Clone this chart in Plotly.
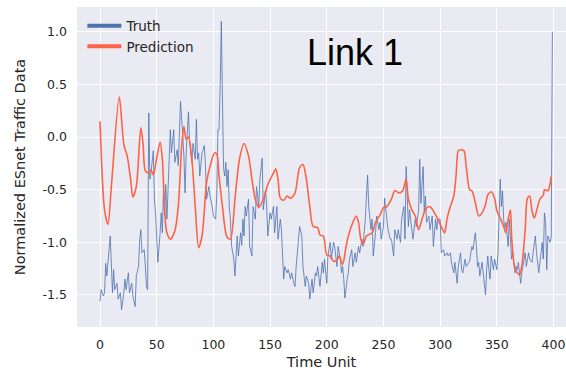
import plotly.graph_objects as go

# Observed link traffic (normalized), sampled time units
truth_t = [0, 1, 3, 4, 5, 6, 9, 10, 11, 12, 13, 15, 16, 18, 19, 21, 22, 23, 25, 26, 28, 29, 31, 32, 34, 35, 36, 37, 39, 40,
           41, 42, 43, 44, 45, 47, 48, 49, 50, 51, 53, 54, 55, 56, 57, 58, 59, 60, 62, 63, 65, 66, 68, 69, 70, 71, 73, 74, 75, 76,
           78, 79, 81, 82, 84, 85, 86, 87, 88, 90, 91, 92, 93, 94, 96, 97, 99, 100, 102, 103, 104, 105, 106, 107, 108, 109, 110, 111, 112, 113,
           114, 115, 116, 118, 119, 120, 121, 122, 124, 125, 126, 127, 128, 129, 131, 132, 134, 135, 137, 138, 140, 141, 143, 144, 146, 147, 148, 150, 151, 153,
           154, 156, 157, 159, 160, 162, 163, 165, 166, 168, 169, 171, 172, 173, 175, 176, 178, 179, 181, 182, 184, 185, 187, 188, 190, 191, 192, 194, 196, 197,
           198, 200, 201, 203, 204, 206, 207, 209, 210, 212, 213, 214, 215, 216, 218, 219, 220, 222, 223, 225, 226, 228, 229, 231, 232, 234, 235, 236, 237, 239,
           240, 241, 243, 244, 246, 247, 248, 250, 251, 253, 254, 256, 257, 259, 260, 262, 263, 265, 266, 268, 269, 270, 271, 272, 273, 275, 276, 278, 279, 281,
           282, 283, 285, 286, 287, 288, 290, 291, 293, 294, 296, 297, 298, 300, 301, 303, 304, 306, 307, 309, 310, 312, 313, 315, 316, 318, 319, 320, 322, 323,
           325, 326, 327, 328, 329, 331, 332, 333, 334, 335, 337, 338, 340, 341, 342, 343, 344, 345, 347, 348, 350, 351, 352, 353, 354, 355, 356, 357, 358, 360,
           361, 362, 363, 364, 366, 367, 368, 369, 371, 372, 374, 375, 376, 378, 379, 381, 382, 384, 385, 386, 387, 389, 390, 391, 392, 393, 394, 395, 396, 397,
           398, 399]
truth_v = [-1.56, -1.45, -1.51, -1.48, -1.20, -1.32, -0.94, -1.29, -1.48, -1.26, -1.45, -1.39, -1.54, -1.48, -1.64, -1.48, -1.35, -1.45, -1.29, -1.48,
           -1.39, -1.51, -1.61, -1.32, -1.23, -0.97, -0.88, -1.10, -1.07, -1.23,
           -1.42, -1.45, 0.23, -0.40, -0.34, -0.13, -0.59, -0.72, -0.97, -1.19, -0.91, -0.72, -0.91, -0.47, -0.75, -0.45, -0.78, -0.53, 0.07, -0.15,
           0.07, -0.24, -0.12, -0.27, 0.14, 0.34, 0.01, -0.18, -0.53, -0.15,
           0.24, -0.04, -0.24, -0.06, -0.21, 0.17, -0.21, -0.15, -0.37, -0.15, -0.12, -0.08, -0.27, -0.59, -0.47, -0.56, -0.66, -0.75, -0.78, -0.53,
           0.07, 0.07, 0.50, 1.10, 0.35, -0.30, -0.37, -0.24, -0.47, -0.31,
           -0.66, -0.78, -1.03, -1.16, -1.32, -1.10, -0.94, -1.13, -0.91, -1.03, -0.78, -0.94, -0.66, -0.75, -0.59, -1.04, -1.13, -0.66, -0.78, -0.47,
           -0.66, -0.40, -0.20, -0.69, -0.50, -0.66, -0.94, -0.72, -0.78, -0.66,
           -0.91, -0.66, -0.97, -0.78, -0.88, -1.35, -1.23, -1.29, -1.26, -1.35, -1.29, -1.39, -1.42, -1.23, -1.00, -0.85, -0.94, -1.23, -1.42, -1.32,
           -1.39, -1.54, -1.35, -1.48, -1.29, -1.32, -1.23, -1.42, -1.19, -1.29,
           -1.16, -1.39, -1.13, -1.00, -1.16, -1.00, -1.04, -1.23, -1.04, -1.16, -1.29, -1.23, -1.35, -1.53, -1.35, -1.29, -1.16, -1.07, -1.23, -1.10,
           -1.19, -1.04, -1.10, -0.97, -1.04, -0.78, -0.56, -0.36, -0.66, -0.88,
           -0.78, -1.13, -0.91, -0.75, -0.88, -0.81, -0.97, -0.85, -0.58, -0.78, -0.88, -0.97, -0.97, -1.13, -0.88, -0.97, -0.88, -1.00, -0.78, -0.66,
           -0.97, -0.28, -0.63, -0.85, -0.69, -0.88, -0.97, -0.78, -0.85, -0.69,
           -0.21, -0.63, -0.28, -0.72, -0.56, -0.81, -0.75, -0.88, -0.75, -1.04, -0.78, -0.88, -0.78, -0.78, -1.10, -1.07, -1.13, -1.10, -1.13, -1.10,
           -1.19, -1.29, -1.19, -1.39, -1.23, -1.10, -1.26, -1.29, -1.16, -1.23,
           -1.19, -1.18, -1.10, -1.04, -1.07, -0.91, -1.04, -1.23, -1.19, -1.32, -1.19, -1.29, -1.50, -1.26, -1.13, -1.26, -1.35, -1.13, -1.26, -1.16,
           -1.26, -1.10, -0.78, -0.40, -0.66, -0.51, -0.78, -0.88, -0.81, -1.04,
           -0.78, -0.94, -1.16, -1.10, -1.29, -1.23, -1.26, -1.19, -1.39, -1.29, -1.16, -1.10, -1.23, -1.10, -1.16, -1.19, -1.10, -0.94, -1.10, -1.23,
           -1.29, -1.10, -1.00, -1.16, -0.72, -0.81, -1.26, -0.94, -0.97, -1.00,
           -0.95, 1.00]

# Model prediction (smooth curve), sampled time units
pred_t = [0, 4, 7, 10, 17, 21, 24, 27, 29, 32, 36, 38, 40, 43, 45, 47, 50, 53, 55, 57,
          59, 62, 66, 69, 72, 74, 76, 78, 81, 84, 87, 90, 94, 97, 101, 103, 105, 108, 112, 115,
          119, 123, 127, 131, 134, 137, 140, 144, 148, 153, 155, 157, 159, 162, 165, 168, 172, 176, 179, 182,
          185, 188, 192, 194, 197, 200, 203, 206, 209, 211, 214, 217, 219, 223, 226, 228, 230, 232, 235, 240,
          243, 247, 250, 253, 257, 260, 264, 267, 270, 272, 275, 278, 281, 284, 287, 290, 292, 295, 298, 301,
          304, 306, 309, 312, 314, 316, 318, 321, 323, 326, 328, 331, 334, 337, 340, 342, 345, 348, 350, 353,
          356, 358, 360, 362, 363, 365, 367, 370, 372, 375, 377, 379, 381, 383, 386, 388, 391, 392, 395, 397,
          398]
pred_v = [0.15, -0.69, -0.83, -0.47, 0.38, -0.07, -0.18, -0.40, -0.57, -0.47, 0.09, -0.07, -0.32, -0.34, -0.31, -0.36, -0.20, -0.05, -0.21, -0.70,
          -0.91, -0.97, -0.89, -0.66, -0.09, 0.10, -0.02, 0.00, -0.21, -0.66, -1.05, -0.94, -0.43, -0.28, -0.15, -0.16, -0.37, -0.66, -0.95, -0.97,
          -0.59, -0.21, -0.06, -0.18, -0.40, -0.59, -0.67, -0.59, -0.45, -0.34, -0.30, -0.40, -0.58, -0.60, -0.56, -0.58, -0.53, -0.29, -0.26, -0.40,
          -0.66, -0.85, -0.86, -0.93, -0.94, -1.12, -1.13, -1.18, -1.17, -1.13, -1.21, -1.04, -0.94, -0.81, -0.75, -0.81, -0.97, -1.02, -0.94, -0.91,
          -0.81, -0.74, -0.67, -0.66, -0.59, -0.51, -0.53, -0.51, -0.40, -0.59, -0.69, -0.75, -0.88, -0.78, -0.69, -0.66, -0.67, -0.72, -0.78, -0.85,
          -0.91, -0.78, -0.66, -0.56, -0.37, -0.13, -0.12, -0.13, -0.28, -0.50, -0.51, -0.62, -0.75, -0.72, -0.64, -0.55, -0.52, -0.58, -0.70, -0.77,
          -0.85, -0.91, -0.78, -0.69, -0.94, -1.19, -1.27, -1.31, -1.23, -0.88, -0.58, -0.56, -0.70, -0.77, -0.66, -0.59, -0.55, -0.50, -0.51, -0.44,
          -0.37]

x_ticks = [0, 50, 100, 150, 200, 250, 300, 350, 400]
y_ticks = [-1.5, -1.0, -0.5, 0.0, 0.5, 1.0]

BLUE = "#4C72B0"
RED = "#FF6347"
TXT = "#262626"

fig = go.Figure()
fig.add_trace(go.Scatter(x=truth_t, y=truth_v, mode="lines", showlegend=False,
                         line=dict(color="rgba(76,114,176,0.8)", width=1)))
fig.add_trace(go.Scatter(x=pred_t, y=pred_v, mode="lines", showlegend=False,
                         line=dict(color=RED, width=1.6, shape="spline", smoothing=0.8)))
# legend entries with thick sample lines
fig.add_trace(go.Scatter(x=[None], y=[None], mode="lines", name="Truth",
                         line=dict(color=BLUE, width=4)))
fig.add_trace(go.Scatter(x=[None], y=[None], mode="lines", name="Prediction",
                         line=dict(color=RED, width=4)))

fig.add_annotation(x=225, y=0.80, xref="x", yref="y", text="Link 1", showarrow=False,
                   font=dict(family="Arial, Liberation Sans", size=36, color="black"),
                   xanchor="center", yanchor="middle")

fig.update_layout(
    width=566, height=370,
    margin=dict(l=77, r=0, t=7, b=43),
    paper_bgcolor="white",
    plot_bgcolor="#EAEAF2",
    font=dict(family="DejaVu Sans", size=12.5, color=TXT),
    legend=dict(x=0.011, y=0.989, xanchor="left", yanchor="top", bgcolor="rgba(0,0,0,0)",
                font=dict(size=13.5, color=TXT), tracegroupgap=0, itemwidth=34),
)
fig.update_xaxes(range=[-20.3, 411], tickvals=x_ticks, ticktext=[str(v) for v in x_ticks],
                 showgrid=True, gridcolor="white", gridwidth=1.2, zeroline=False, showline=False,
                 ticks="", ticklabelstandoff=8,
                 title=dict(text="Time Unit", font=dict(size=14.5, color=TXT), standoff=9))
fig.update_yaxes(range=[-1.805, 1.237], tickvals=y_ticks, ticktext=[f"{v:.1f}" for v in y_ticks],
                 showgrid=True, gridcolor="white", gridwidth=1.2, zeroline=False, showline=False,
                 ticks="", ticklabelstandoff=9,
                 title=dict(text="Normalized ESnet Traffic Data", font=dict(size=14.5, color=TXT), standoff=13))

fig.write_html("out.html")
